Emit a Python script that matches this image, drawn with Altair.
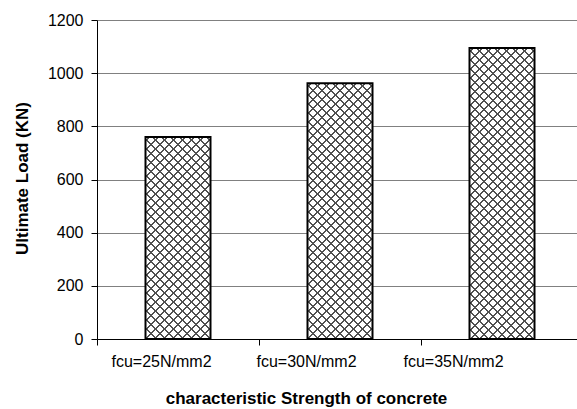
import altair as alt
import pandas as pd

# ---- data ----
categories = ["fcu=25N/mm2", "fcu=30N/mm2", "fcu=35N/mm2"]
loads = [760, 962, 1095]
y_ticks = [0, 200, 400, 600, 800, 1000, 1200]

df = pd.DataFrame({"cat": categories, "load": loads})

# ---- layout / style ----
W, H = 480, 319
YMAX = 1200
BAR = 65
XRANGE = 486
FONT = "Liberation Sans"
LINE = "#505050"
PERIOD = 9.0
LW = 1.8
label_shift = [-17, -34, -49]


def hatch(w, h, flip, base):
    total = w + h
    k = total / (w * w + h * h)
    if flip:
        x1, y1, x2, y2 = 1, 0, 1 - w * k, h * k
    else:
        x1, y1, x2, y2 = 0, 0, w * k, h * k
    stops = [{"offset": 0, "color": base}]
    c = 4.0
    while c < total:
        a = max(0.0, (c - LW / 2) / total)
        b = min(1.0, (c + LW / 2) / total)
        stops += [
            {"offset": a, "color": base},
            {"offset": a, "color": LINE},
            {"offset": b, "color": LINE},
            {"offset": b, "color": base},
        ]
        c += PERIOD
    stops.append({"offset": 1, "color": base})
    return {"gradient": "linear", "x1": x1, "y1": y1, "x2": x2, "y2": y2, "stops": stops}


x_axis = alt.Axis(
    title="characteristic Strength of concrete",
    tickBand="extent",
    grid=False,
    domainColor="black",
    tickColor="black",
    tickSize=6,
    labelAngle=0,
    labelFont=FONT,
    labelFontSize=16,
    labelColor="black",
    labelPadding=8,
    labelOffset={
        "condition": [
            {"test": f"datum.value === '{categories[0]}'", "value": label_shift[0]},
            {"test": f"datum.value === '{categories[1]}'", "value": label_shift[1]},
        ],
        "value": label_shift[2],
    },
    titleFont=FONT,
    titleFontSize=17,
    titleFontWeight="bold",
    titleColor="black",
    titleX=209,
    titleY=64,
    titleAlign="center",
    titleBaseline="alphabetic",
)

y_axis = alt.Axis(
    title="Ultimate Load (KN)",
    values=y_ticks,
    format="d",
    grid=True,
    gridColor="#808080",
    gridWidth=1,
    domainColor="black",
    tickColor="black",
    tickSize=6,
    labelFont=FONT,
    labelFontSize=16,
    labelColor="black",
    labelPadding=8,
    titleFont=FONT,
    titleFontSize=17,
    titleFontWeight="bold",
    titleColor="black",
    titleAngle=270,
    titleX=-75,
    titleY=158,
    titleAlign="center",
    titleBaseline="middle",
)

base = alt.Chart(df).encode(
    x=alt.X(
        "cat:N",
        sort=categories,
        scale=alt.Scale(domain=categories, range=[0, XRANGE], paddingInner=0, paddingOuter=0),
        axis=x_axis,
    ),
    y=alt.Y("load:Q", scale=alt.Scale(domain=[0, YMAX]), axis=y_axis),
)

layers = []
for cat, v in zip(categories, loads):
    h = v / YMAX * H
    sub = base.transform_filter(alt.datum.cat == cat)
    layers.append(sub.mark_bar(size=BAR, fill=hatch(BAR, h, False, "#ffffff"), strokeWidth=0))
    layers.append(
        sub.mark_bar(
            size=BAR,
            fill=hatch(BAR, h, True, "rgba(255,255,255,0)"),
            stroke="black",
            strokeWidth=2,
        )
    )

chart = (
    alt.layer(*layers)
    .properties(
        width=W,
        height=H,
        autosize=alt.AutoSizeParams(type="none"),
        padding={"left": 97, "top": 20, "right": 0, "bottom": 70},
        background="white",
    )
    .configure_view(strokeWidth=0)
)

chart.save("out.html", embed_options={"renderer": "svg", "actions": False})
